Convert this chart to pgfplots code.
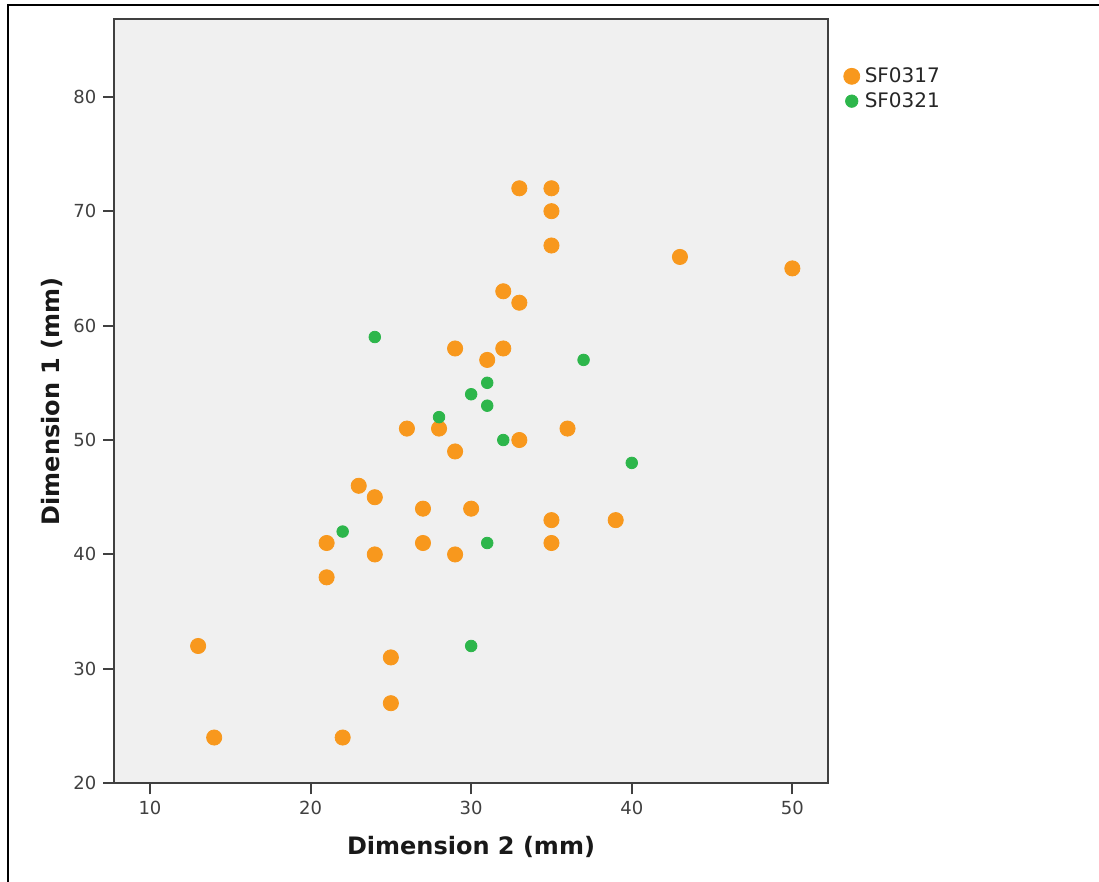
\documentclass[border=0pt]{standalone}
\usepackage{fontspec}
\setmainfont{DejaVu Sans}
\usepackage{pgfplots}
\pgfplotsset{compat=1.18}
\definecolor{sforange}{RGB}{248,152,29}
\definecolor{sfgreen}{RGB}{45,182,75}
\definecolor{axgray}{RGB}{64,64,64}
\definecolor{bggray}{RGB}{240,240,240}
\begin{document}
\begin{tikzpicture}
\path[use as bounding box] (0,0) rectangle (549.5pt,441pt);
\draw[line width=1pt,black] (3.75pt,0) -- (3.75pt,438.25pt) -- (549.5pt,438.25pt);
\begin{axis}[
  at={(57.15pt,49.35pt)}, anchor=south west,
  scale only axis, width=356.7pt, height=382pt,
  xmin=7.78, xmax=52.2, ymin=20, ymax=86.77,
  xtick={10,20,30,40,50}, ytick={20,30,...,80},
  axis background/.style={fill=bggray},
  axis line style={axgray, line width=1pt},
  tick style={axgray, line width=1pt},
  major tick length=5.5pt,
  tick align=outside, xtick pos=bottom, ytick pos=left,
  tick label style={font=\fontsize{9}{11}\selectfont, text=black!75},
  /pgf/number format/assume math mode=true,
  xlabel={Dimension 2 (mm)}, ylabel={Dimension 1 (mm)},
  label style={font=\fontsize{12}{14}\selectfont\bfseries, text=black!90},
  xlabel style={at={(axis description cs:0.5,-0.0838)}, anchor=center},
  ylabel style={at={(axis description cs:-0.0869,0.5)}, anchor=center},
  legend style={at={(axis description cs:1.0214,0.9428)}, anchor=north west,
    draw=none, fill=none, inner sep=0pt, row sep=-0.5pt,
    font=\fontsize{10}{12}\selectfont, text=black!85,
    nodes={inner xsep=2.3pt}},
  legend cell align=left,
]
\addplot[only marks, color=sforange, mark=*, mark size=3.8pt,
  mark options={draw=sforange, fill=sforange, line width=0.4pt},
  legend image code/.code={\fill[sforange] (0pt,0pt) circle (4pt);}]
  coordinates {
  (13,32) (14,24) (21,41) (21,38) (22,24) (23,46) (24,45) (24,40) (25,31) (25,27)
  (26,51) (27,44) (27,41) (28,51) (29,58) (29,49) (29,40) (30,44) (31,57) (32,63)
  (32,58) (33,72) (33,62) (33,50) (35,72) (35,70) (35,67) (35,43) (35,41) (36,51)
  (39,43) (43,66) (50,65)
  };
\addlegendentry{SF0317}
\addplot[only marks, color=sfgreen, mark=*, mark size=2.9pt,
  mark options={draw=sfgreen, fill=sfgreen, line width=0.4pt},
  legend image code/.code={\fill[sfgreen] (0pt,0pt) circle (3.1pt);}]
  coordinates {
  (24,59) (22,42) (28,52) (30,54) (31,55) (31,53) (32,50) (31,41) (30,32) (37,57) (40,48)
  };
\addlegendentry{SF0321}
\end{axis}
\end{tikzpicture}
\end{document}
